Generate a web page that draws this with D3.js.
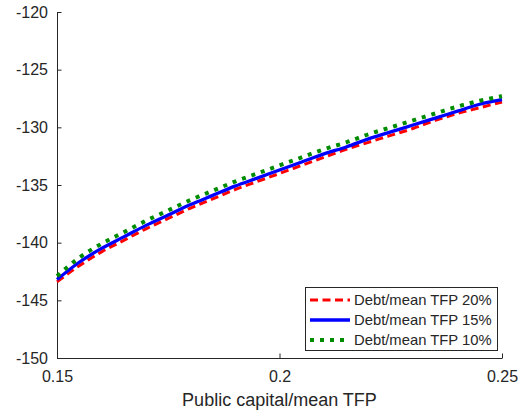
<!DOCTYPE html>
<html>
<head>
<meta charset="utf-8">
<script src="https://cdn.jsdelivr.net/npm/d3@7"></script>
<style>
  body { margin: 0; background: #fff; }
  svg { display: block; font-family: "Liberation Sans", Arial, sans-serif; }
</style>
</head>
<body>
<svg id="chart" width="525" height="413"></svg>
<script>
// public capital / mean TFP grid
const capital = [0.150, 0.155, 0.160, 0.165, 0.170, 0.175, 0.180, 0.185, 0.190, 0.195,
                 0.200, 0.205, 0.210, 0.215, 0.220, 0.225, 0.230, 0.235, 0.240, 0.245, 0.250];

// welfare values
const debt20 = [-143.4, -142.0, -140.8, -139.8, -138.8, -137.9, -137.0, -136.2, -135.4, -134.7,
                -134.0, -133.3, -132.6, -131.9, -131.3, -130.7, -130.1, -129.4, -128.8, -128.3, -127.8];
const debt15 = [-143.2, -141.7, -140.5, -139.5, -138.5, -137.6, -136.7, -135.9, -135.1, -134.4,
                -133.7, -133.0, -132.3, -131.7, -131.0, -130.4, -129.8, -129.2, -128.6, -128.0, -127.6];
const debt10 = [-142.9, -141.3, -140.1, -139.1, -138.1, -137.2, -136.3, -135.5, -134.7, -134.0,
                -133.3, -132.6, -131.9, -131.3, -130.6, -130.0, -129.4, -128.8, -128.2, -127.7, -127.3];

const seriesNames = ['Debt/mean TFP 20%', 'Debt/mean TFP 15%', 'Debt/mean TFP 10%'];
const xTicks = [0.15, 0.2, 0.25];
const yTicks = [-150, -145, -140, -135, -130, -125, -120];

const ink = '#262626';
const mLeft = 57, mRight = 502, mTop = 12, mBottom = 358;

const svg = d3.select('#chart');

const x = d3.scaleLinear().domain([0.15, 0.25]).range([mLeft, mRight]);
const y = d3.scaleLinear().domain([-150, -120]).range([mBottom, mTop]);

// axes, MATLAB style ticks pointing inward, plain hyphen minus
const xAxis = svg.append('g')
  .attr('transform', `translate(0,${mBottom})`)
  .call(d3.axisBottom(x).tickValues(xTicks).tickFormat(d => String(d)).tickSizeInner(-4.5).tickSizeOuter(0).tickPadding(10));
const yAxis = svg.append('g')
  .attr('transform', `translate(${mLeft},0)`)
  .call(d3.axisLeft(y).tickValues(yTicks).tickFormat(d => String(d)).tickSizeInner(-4.5).tickSizeOuter(0).tickPadding(9));

[xAxis, yAxis].forEach(a => {
  a.select('.domain').attr('stroke', ink);
  a.selectAll('.tick line').attr('stroke', ink);
  a.selectAll('.tick text').attr('fill', ink).style('font-size', '16px');
});
xAxis.selectAll('.tick text').attr('dy', '0.9em');

svg.append('text')
  .attr('x', (mLeft + mRight) / 2)
  .attr('y', 406)
  .attr('text-anchor', 'middle')
  .attr('fill', ink)
  .style('font-size', '18px')
  .text('Public capital/mean TFP');

const styles = [
  { data: debt20, color: '#ff0000', width: 3, dash: '8,4.5' },
  { data: debt15, color: '#0000ff', width: 3.3, dash: null },
  { data: debt10, color: '#008c00', width: 4, dash: '4,6' }
];

const line = d3.line()
  .x((d, i) => x(capital[i]))
  .y(d => y(d))
  .curve(d3.curveMonotoneX);

styles.forEach(s => {
  svg.append('path')
    .datum(s.data)
    .attr('d', line)
    .attr('fill', 'none')
    .attr('stroke', s.color)
    .attr('stroke-width', s.width)
    .attr('stroke-dasharray', s.dash);
});

// legend
const legend = svg.append('g');
legend.append('rect')
  .attr('x', 305.5).attr('y', 287.5)
  .attr('width', 192).attr('height', 63)
  .attr('fill', '#fff')
  .attr('stroke', ink)
  .attr('stroke-width', 1);

styles.forEach((s, i) => {
  const ly = 300 + i * 20;
  legend.append('line')
    .attr('x1', 310).attr('x2', 350)
    .attr('y1', ly).attr('y2', ly)
    .attr('stroke', s.color)
    .attr('stroke-width', s.width)
    .attr('stroke-dasharray', s.dash);
  legend.append('text')
    .attr('x', 354)
    .attr('y', ly)
    .attr('dy', '0.35em')
    .attr('fill', ink)
    .style('font-size', '14.8px')
    .text(seriesNames[i]);
});
</script>
</body>
</html>
